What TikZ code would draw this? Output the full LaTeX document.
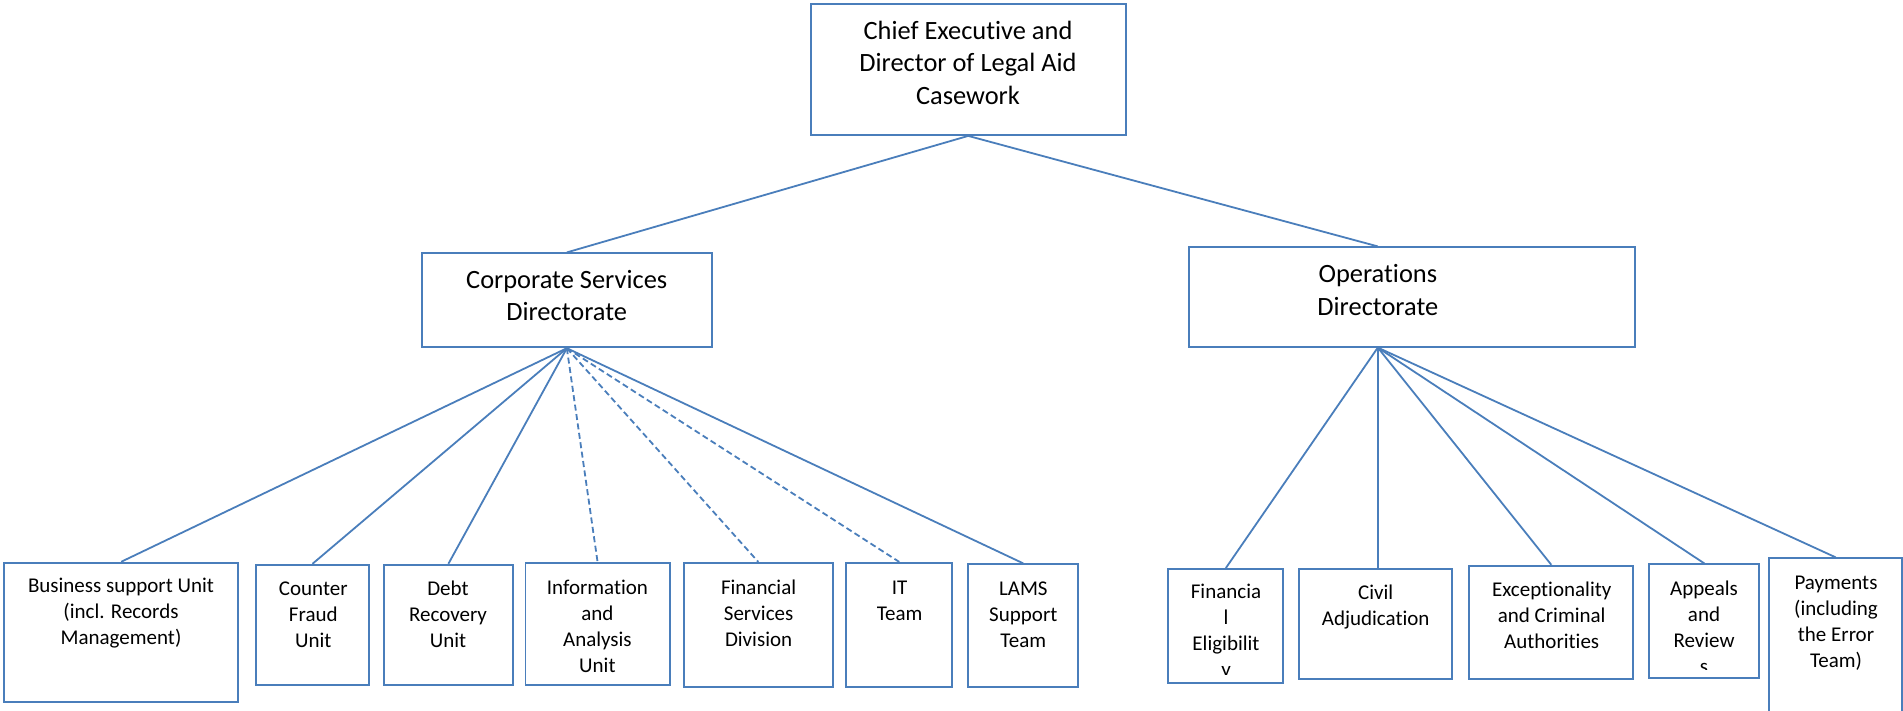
\documentclass[tikz,border=0pt]{standalone}
\usepackage{fontspec}
\setmainfont{Carlito}[Ligatures=NoCommon]
\usetikzlibrary{fit}

\definecolor{orgblue}{HTML}{4A7EBB}

\tikzset{
  box/.style={draw=orgblue, line width=1.8pt, inner sep=0pt, fill=white},
  link/.style={draw=orgblue, line width=1.8pt},
  dottedlink/.style={link, dash pattern=on 6pt off 3.5pt},
  bigtxt/.style={inner sep=0pt, anchor=north, align=center,
    font=\fontsize{26.4}{32.3}\selectfont},
  smalltxt/.style={inner sep=0pt, anchor=north, align=center,
    font=\fontsize{21}{26}\selectfont},
}

\begin{document}
\begin{tikzpicture}[x=1pt, y=-1pt]
\useasboundingbox (0,0) rectangle (1903,710);
\clip (0,0) rectangle (1903,710);

% ---- boxes ----
\node[box, fit={(810.7,4.3) (1125.7,135)}] (ceo) {};
\node[box, fit={(421.7,253.3) (712,347.3)}] (corp) {};
\node[box, fit={(1189,247.3) (1635,346.7)}] (ops) {};

\node[box, fit={(4,562.7) (238.3,701.7)}] (bsu) {};
\node[box, fit={(255.7,564.7) (369.3,685.3)}] (cfu) {};
\node[box, fit={(384,564.7) (512.8,685.3)}] (dru) {};
\node[box, fit={(525.4,562.8) (669.7,685.2)}] (iau) {};
\node[box, fit={(683.6,562.8) (833,687.3)}] (fsd) {};
\node[box, fit={(846.2,562.8) (952.3,687.3)}] (itt) {};
\node[box, fit={(968.3,564.3) (1078.3,686.7)}] (lams) {};

\node[box, fit={(1168.3,569) (1283.3,682.7)}] (fel) {};
\node[box, fit={(1299,569.3) (1452,679.3)}] (civ) {};
\node[box, fit={(1469.3,565.7) (1633.3,678.7)}] (exc) {};
\node[box, fit={(1649.3,564.3) (1759.3,678.3)}] (app) {};
\node[box, fit={(1769.3,558.3) (1902.3,725)}] (pay) {};

% ---- texts (a strut on the first line fixes the baseline) ----
\node[bigtxt] (ceo-t) at (968,16.7) {\strut Chief Executive and\\Director of Legal Aid\\Casework};
\node[bigtxt] (corp-t) at (566.7,265.7) {\strut Corporate Services\\Directorate};
\node[bigtxt] (ops-t) at (1377.8,259.9) {\strut Operations\\Directorate};

\node[smalltxt] (bsu-t) at (121,574.5) {\strut Business support Unit\\(incl. Records\\Management)};
\node[smalltxt] (cfu-t) at (313.3,577.5) {\strut Counter\\Fraud\\Unit};
\node[smalltxt] (dru-t) at (448,577.5) {\strut Debt\\Recovery\\Unit};
\node[smalltxt] (iau-t) at (597.4,575.8) {\strut Information\\and\\Analysis\\Unit};
\node[smalltxt] (fsd-t) at (758.6,575.8) {\strut Financial\\Services\\Division};
\node[smalltxt] (itt-t) at (899.6,575.8) {\strut IT\\Team};
\node[smalltxt] (lams-t) at (1023.3,576.8) {\strut LAMS\\Support\\Team};

\begin{scope}
  \clip (1168.3,569) rectangle (1283.3,674);
  \node[smalltxt] (fel-t) at (1226,580.1) {\strut Financia\\l\\Eligibilit\\y};
\end{scope}
\node[smalltxt] (civ-t) at (1375.7,581.1) {\strut Civil\\Adjudication};
\node[smalltxt] (exc-t) at (1551.7,578.5) {\strut Exceptionality\\and Criminal\\Authorities};
\begin{scope}
  \clip (1649.3,564.3) rectangle (1759.3,669.3);
  \node[smalltxt] (app-t) at (1704,576.8) {\strut Appeals\\and\\Review\\s};
\end{scope}
\node[smalltxt] (pay-t) at (1836,571.1) {\strut Payments\\(including\\the Error\\Team)};

% ---- connectors ----
\draw[link] (ceo.south) -- (corp.north);
\draw[link] (ceo.south) -- (ops.north -| ops-t);

\draw[link] (corp.south) -- (bsu.north);
\draw[link] (corp.south) -- (cfu.north);
\draw[link] (corp.south) -- (dru.north);
\draw[dottedlink] (corp.south) -- (iau.north);
\draw[dottedlink] (corp.south) -- (fsd.north);
\draw[dottedlink] (corp.south) -- (itt.north);
\draw[link] (corp.south) -- (lams.north);

\draw[link] (ops.south -| ops-t) -- (fel.north);
\draw[link] (ops.south -| ops-t) -- (civ.north -| ops-t);
\draw[link] (ops.south -| ops-t) -- (exc.north);
\draw[link] (ops.south -| ops-t) -- (app.north);
\draw[link] (ops.south -| ops-t) -- (pay.north);
\end{tikzpicture}
\end{document}
